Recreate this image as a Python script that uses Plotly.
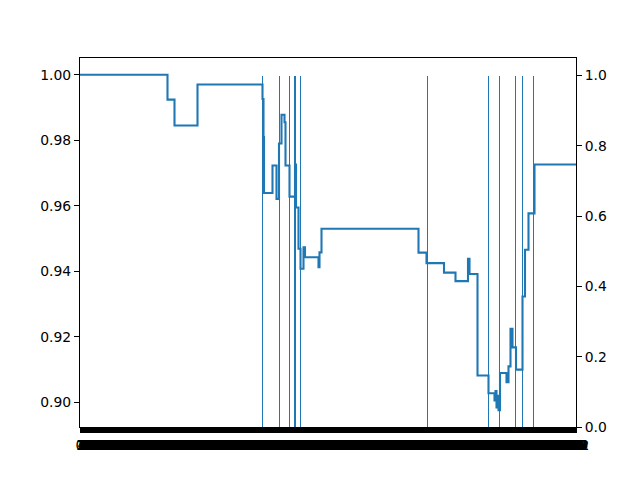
import plotly.graph_objects as go

# number of categorical x positions (tick labels 0..N-1)
n_points = 993
tick_labels = [str(i) for i in range(n_points)]

# step-line change points: x index and value
step_x = [0, 175, 189, 235, 365, 367, 368, 385, 393, 398, 403, 409, 411, 419,
          430, 432, 437, 441, 447, 450, 477, 479, 483, 677, 693, 728, 751, 776,
          779, 795, 817, 829, 831, 833, 835, 837, 840, 853, 857, 861, 865, 872,
          885, 890, 897, 909, 992]
step_y = [1.000, 0.9924, 0.9845, 0.9970, 0.9926, 0.9810, 0.9639, 0.9723, 0.9621,
          0.9790, 0.9878, 0.9855, 0.9723, 0.9628, 0.9726, 0.9595, 0.9469, 0.9408,
          0.9473, 0.9443, 0.9413, 0.9458, 0.9530, 0.9457, 0.9425, 0.9396, 0.9370,
          0.9438, 0.9392, 0.9082, 0.9028, 0.9006, 0.9035, 0.8985, 0.9020, 0.8976,
          0.9090, 0.9062, 0.9110, 0.9225, 0.9168, 0.9100, 0.9323, 0.9466, 0.9577,
          0.9726, 0.9726]

# event markers (bars of height 1 on the right axis)
event_x = [365, 399, 419, 430, 441, 695, 817, 839, 871, 885, 907]
event_h = [1, 1, 1, 1, 1, 1, 1, 1, 1, 1, 1]

left_ticks = [0.90, 0.92, 0.94, 0.96, 0.98, 1.00]
right_ticks = [0.0, 0.2, 0.4, 0.6, 0.8, 1.0]

blue = "#1f77b4"
font = dict(family="DejaVu Sans", size=13.9, color="black")

fig = go.Figure()
fig.add_trace(go.Scatter(x=step_x, y=step_y, mode="lines",
                         line=dict(color=blue, width=2.1, shape="hv"),
                         showlegend=False, hoverinfo="skip"))
fig.add_trace(go.Bar(x=event_x, y=event_h, width=1.6, marker=dict(color=blue, line=dict(width=0)),
                     yaxis="y2", showlegend=False, hoverinfo="skip"))

fig.update_layout(
    width=640, height=480,
    margin=dict(l=80, r=64, t=58, b=53),
    paper_bgcolor="white", plot_bgcolor="white",
    font=font,
    bargap=0,
    xaxis=dict(range=[0, n_points - 1], tickmode="array",
               tickvals=list(range(n_points)), ticktext=tick_labels,
               tickangle=0, ticks="outside", ticklen=5, tickwidth=1, tickcolor="black",
               showgrid=False, zeroline=False, showline=True, linecolor="black",
               linewidth=1, mirror=True, tickfont=font),
    yaxis=dict(range=[0.8925, 1.0051], tickmode="array", tickvals=left_ticks,
               ticktext=[f"{v:.2f}" for v in left_ticks],
               ticks="outside", ticklen=5, tickwidth=1, tickcolor="black",
               showgrid=False, zeroline=False, showline=True, linecolor="black",
               linewidth=1, mirror=True, tickfont=font),
    yaxis2=dict(range=[0, 1.05], overlaying="y", side="right", tickmode="array",
                tickvals=right_ticks, ticktext=[f"{v:.1f}" for v in right_ticks],
                ticks="outside", ticklen=5, tickwidth=1, tickcolor="black",
                showgrid=False, zeroline=False, showline=True, linecolor="black",
                linewidth=1, tickfont=font),
)

fig.write_html("out.html")
